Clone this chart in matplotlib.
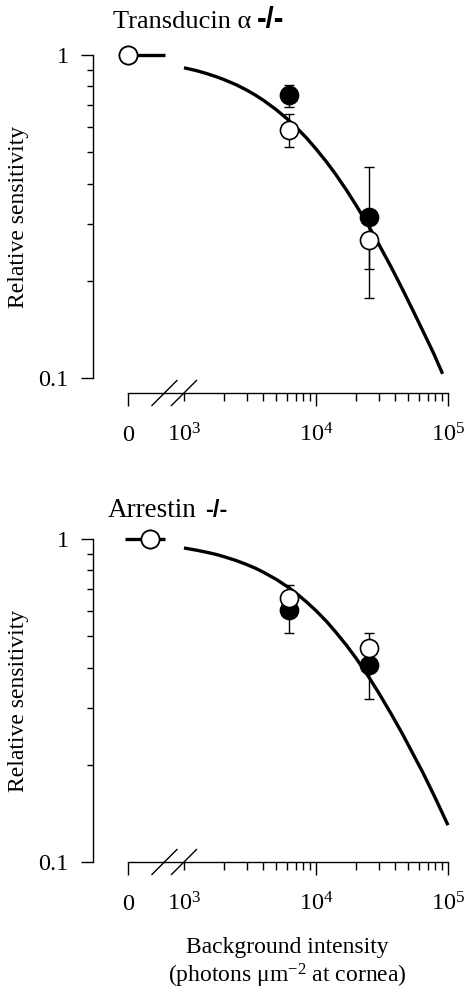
import numpy as np
import matplotlib
matplotlib.use('Agg')
import matplotlib.pyplot as plt
from matplotlib.lines import Line2D
from matplotlib.transforms import IdentityTransform
from matplotlib.ticker import NullFormatter

plt.rcParams['font.family'] = ['Liberation Serif', 'DejaVu Serif']
plt.rcParams['mathtext.fontset'] = 'custom'
plt.rcParams['mathtext.rm'] = 'Liberation Serif'
plt.rcParams['mathtext.it'] = 'Liberation Serif:italic'

# ---------------- data ----------------
panel_titles = ['Transducin \u03b1', 'Arrestin']
title_suffix = '-/-'
x_tick_labels = ['0', r'$\mathregular{10^3}$', r'$\mathregular{10^4}$', r'$\mathregular{10^5}$']
y_tick_labels = ['0.1', '1']

background = [0, 6200, 25000]   # photons um^-2 at cornea

# Transducin alpha -/-
tr_filled = [1.0, 0.750, 0.316]
tr_filled_lo = [1.0, 0.692, 0.218]
tr_filled_hi = [1.0, 0.807, 0.451]
tr_open = [1.0, 0.585, 0.268]
tr_open_lo = [1.0, 0.520, 0.177]
tr_open_hi = [1.0, 0.655, 0.300]

# Arrestin -/-
ar_filled = [1.0, 0.603, 0.407]
ar_filled_lo = [1.0, 0.512, 0.320]
ar_filled_hi = [1.0, 0.680, 0.450]
ar_open = [1.0, 0.657, 0.460]
ar_open_lo = [1.0, 0.600, 0.420]
ar_open_hi = [1.0, 0.720, 0.510]

# fitted curves
tr_curve_I = [1000, 1250, 1500, 1750, 2000, 2500, 3000, 3500, 4000, 5000, 6000,
              7000, 8500, 10000, 12000, 14000, 17000, 20000, 25000, 30000, 37000,
              45000, 55000, 65000, 78000, 91000]
tr_curve_S = [0.913, 0.894, 0.875, 0.857, 0.840, 0.808, 0.778, 0.750, 0.724, 0.677,
              0.636, 0.600, 0.553, 0.512, 0.467, 0.429, 0.382, 0.344, 0.296, 0.259,
              0.221, 0.189, 0.160, 0.139, 0.119, 0.103]
ar_curve_I = [1000, 1250, 1500, 1750, 2000, 2500, 3000, 3500, 4000, 5000, 6000,
              7000, 8500, 10000, 12000, 14000, 17000, 20000, 25000, 30000, 37000,
              45000, 55000, 65000, 80000, 100000]
ar_curve_S = [0.938, 0.923, 0.909, 0.896, 0.882, 0.857, 0.833, 0.811, 0.789, 0.750,
              0.714, 0.682, 0.638, 0.600, 0.556, 0.517, 0.469, 0.429, 0.375, 0.333,
              0.288, 0.250, 0.214, 0.188, 0.158, 0.130]

# ---------------- layout ----------------
W, H = 467, 994
ZERO_POS = 2.576          # where intensity 0 sits on the broken log axis
PX = 72.0 / 100.0         # points per pixel

fig = plt.figure(figsize=(W / 100, H / 100), dpi=100)

panels = [
    dict(title=panel_titles[0], top=55, filled=tr_filled, flo=tr_filled_lo, fhi=tr_filled_hi,
         opn=tr_open, olo=tr_open_lo, ohi=tr_open_hi, cI=tr_curve_I, cS=tr_curve_S,
         zero_shift=0.0, zero_line=(0.0, 0.28), xoff=15, title_x=113, title_base=28,
         tsize=19, ssize=21, gap=6),
    dict(title=panel_titles[1], top=539, filled=ar_filled, flo=ar_filled_lo, fhi=ar_filled_hi,
         opn=ar_open, olo=ar_open_lo, ohi=ar_open_hi, cI=ar_curve_I, cS=ar_curve_S,
         zero_shift=0.167, zero_line=(-0.023, 0.28), xoff=0, title_x=108, title_base=517,
         tsize=19.5, ssize=17, gap=8),
]

FS = 17
TFS = 17.5
left_px, right_px, h_px = 128, 448, 323

def xpos(vals, zshift):
    return np.array([np.log10(v) if v > 0 else ZERO_POS + zshift for v in vals])

renderer = fig.canvas.get_renderer()
for i, p in enumerate(panels):
    ax = fig.add_axes([left_px / W, 1 - (p['top'] + h_px) / H,
                       (right_px - left_px) / W, h_px / H])
    ax.set_yscale('log')
    ax.set_ylim(0.1, 1)
    ax.set_xlim(ZERO_POS, 5)
    for s in ['top', 'right']:
        ax.spines[s].set_visible(False)
    ax.spines['left'].set_position(('outward', 35 * PX))
    ax.spines['bottom'].set_position(('outward', p['xoff'] * PX))
    for s in ['left', 'bottom']:
        ax.spines[s].set_linewidth(1.0)

    # curve
    cx = np.log10(p['cI'])
    ax.plot(cx, p['cS'], color='k', lw=2.4, zorder=2, clip_on=False,
            solid_capstyle='butt', solid_joinstyle='round')
    zl = p['zero_line']
    ax.plot([ZERO_POS + zl[0], ZERO_POS + zl[1]], [1.0, 1.0], color='k', lw=2.4,
            zorder=2, clip_on=False, solid_capstyle='butt')

    x = xpos(background, p['zero_shift'])
    f = np.array(p['filled']); o = np.array(p['opn'])
    ferr = [f[1:] - np.array(p['flo'])[1:], np.array(p['fhi'])[1:] - f[1:]]
    oerr = [o[1:] - np.array(p['olo'])[1:], np.array(p['ohi'])[1:] - o[1:]]
    ax.errorbar(x[1:], f[1:], yerr=ferr, fmt='none', ecolor='k', elinewidth=1.0,
                capsize=3.6, capthick=1.0, zorder=3, clip_on=False)
    ax.plot(x, f, 'o', ms=13, mfc='k', mec='k', mew=1.2, zorder=4, clip_on=False)
    ax.errorbar(x[1:], o[1:], yerr=oerr, fmt='none', ecolor='k', elinewidth=1.0,
                capsize=3.6, capthick=1.0, zorder=5, clip_on=False)
    ax.plot(x, o, 'o', ms=13, mfc='white', mec='k', mew=1.2, zorder=6, clip_on=False)

    # ticks
    ax.set_xticks([ZERO_POS, 3, 4, 5])
    ax.set_xticklabels(x_tick_labels)
    minors = [np.log10(m * 10 ** e) for e in (3, 4) for m in range(2, 10)]
    ax.set_xticks(minors, minor=True)
    ax.set_yticks([0.1, 1])
    ax.set_yticklabels(y_tick_labels)
    ax.set_yticks(np.arange(2, 10) / 10, minor=True)
    ax.yaxis.set_minor_formatter(NullFormatter())
    ax.tick_params(axis='x', which='major', direction='out', length=13.5 * PX, width=1.0,
                   pad=35 * PX, labelsize=TFS)
    ax.tick_params(axis='x', which='minor', direction='out', length=7.5 * PX, width=1.0)
    ax.tick_params(axis='y', which='major', direction='out', length=12.5 * PX, width=1.0,
                   pad=12 * PX, labelsize=TFS)
    ax.tick_params(axis='y', which='minor', direction='out', length=6 * PX, width=1.0)
    ax.xaxis.get_major_ticks()[1].tick1line.set_markersize(7.5 * PX)
    for lbl in ax.get_xticklabels():
        lbl.set_verticalalignment('baseline')

    # y label
    yc = p['top'] + h_px / 2
    fig.text(19 / W, 1 - yc / H, 'Relative sensitivity', fontsize=FS, rotation=90,
             ha='center', va='center', rotation_mode='anchor')

    # axis break slashes
    y_axis_disp = ax.transAxes.transform((0, 0))[1] - p['xoff']
    for xc in (2.852, 3.0):
        xd = ax.transData.transform((xc, 1))[0]
        fig.add_artist(Line2D([xd - 12.5, xd + 12.5], [y_axis_disp - 12.5, y_axis_disp + 12.5],
                              color='k', lw=1.0, transform=IdentityTransform()))

    # title
    t = fig.text(p['title_x'] / W, 1 - p['title_base'] / H, p['title'], fontsize=p['tsize'],
                 va='baseline', ha='left')
    bb = t.get_window_extent(renderer)
    fig.text((bb.x1 + p['gap']) / W, 1 - p['title_base'] / H, title_suffix,
             fontsize=p['ssize'], fontweight='bold', family=['Liberation Sans', 'DejaVu Sans'],
             va='baseline', ha='left')

fig.text(287 / W, 1 - 953 / H, 'Background intensity', fontsize=FS, ha='center', va='baseline')
fig.text(287 / W, 1 - 983 / H, r'(photons $\mathregular{\mu}$m$^{\mathregular{-2}}$ at cornea)',
         fontsize=FS, ha='center', va='baseline')

fig.savefig('out.png', dpi=100)
